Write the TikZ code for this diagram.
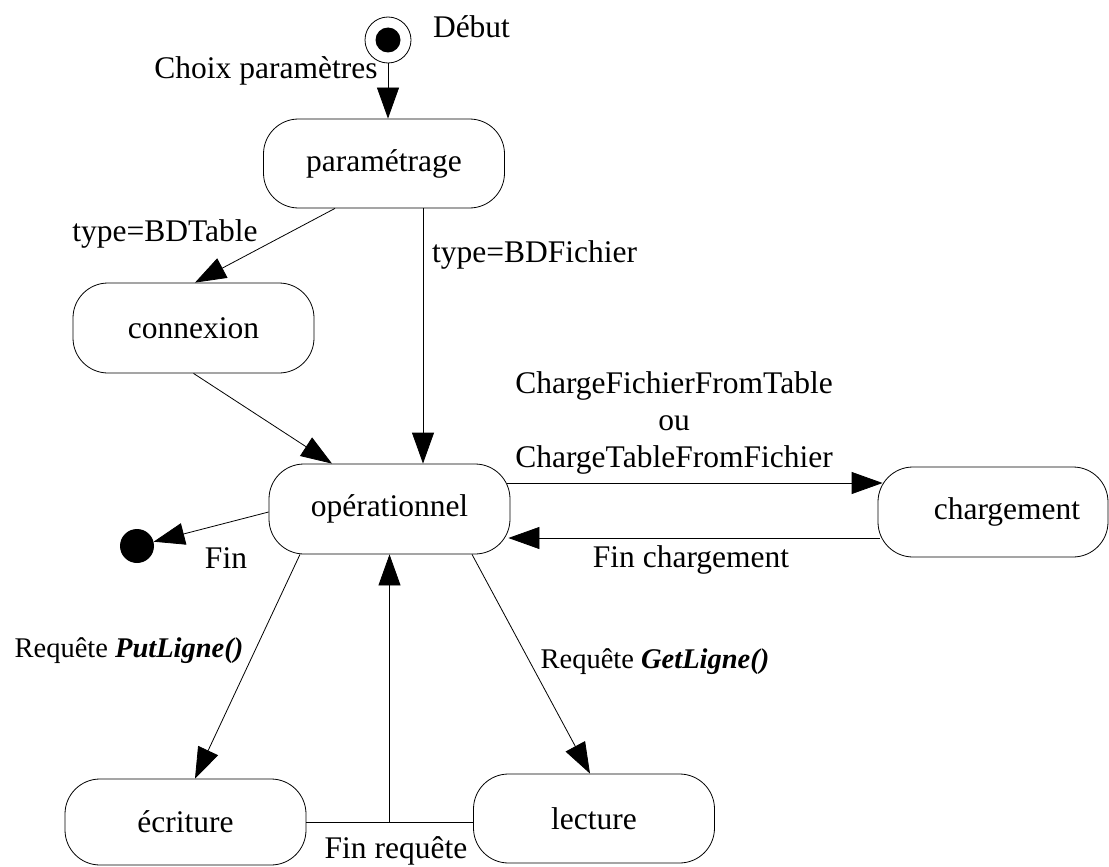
\documentclass[tikz,border=0pt]{standalone}
\usepackage{fontspec}
\setmainfont{Liberation Serif}
\usetikzlibrary{arrows.meta,calc}
\newcommand\myfs{\fontsize{31.5}{37}\selectfont}
\newcommand\myfss{\fontsize{28.5}{34}\selectfont}
\begin{document}
\begin{tikzpicture}[x=1pt,y=-1pt,
  state/.style={draw, line width=0.8pt, rounded corners=35pt, minimum width=241pt,
    minimum height=89pt, inner sep=0pt, font=\myfs},
  lbl/.style={inner sep=0pt, font=\myfs, anchor=base},
  arr/.style={-{Triangle[length=31pt,width=22pt]}, line width=0.8pt},
  ln/.style={line width=0.8pt}]
\useasboundingbox (0,0) rectangle (1109,867);
% states
\node[state] (param) at (384,163.5) {paramétrage};
\node[state, minimum height=90pt] (conn) at (193.5,328) {connexion};
\node[state, minimum height=90pt] (oper) at (389.5,509) {opérationnel};
\node[state, minimum width=230pt, minimum height=90pt] (charg) at (993,512) {\hspace*{28pt}chargement};
\node[state, minimum height=86pt] (ecr) at (185.5,822) {écriture};
\node[state] (lec) at (594,818.5) {lecture};
% start and end
\node[circle, draw, line width=0.8pt, minimum size=46pt, inner sep=0pt] (start) at (388,40) {};
\node[circle, fill, minimum size=25pt, inner sep=0pt] (startin) at (start.center) {};
\node[circle, fill, minimum size=34pt, inner sep=0pt] (endc) at (137,546) {};
% connectors
\draw[arr] (start.south) -- (start.south |- param.north);
\draw[arr] ($(param.south)+(-49,0)$) -- ($(conn.north)+(1.5,0)$);
\coordinate (pf) at ($(param.south)+(39,0)$);
\draw[arr] (pf) -- (pf |- oper.north);
\draw[arr] (conn.south) -- ($(oper.north)+(-57.5,0)$);
\draw[arr] ($(oper.east)+(-3,-26)$) -- ($(charg.west)+(5,-29)$);
\draw[arr] ($(charg.west)+(2,26)$) -- ($(oper.east)+(-2,29)$);
\draw[arr] ($(oper.west)+(0,3)$) -- (endc);
\draw[arr] ($(oper.south)+(-89.5,0)$) -- ($(ecr.north)+(9.5,0)$);
\draw[arr] ($(oper.south)+(82.5,0)$) -- ($(lec.north)+(-4,0)$);
\draw[ln] (ecr.east) -- (ecr.east -| lec.west);
\draw[arr] (oper.south |- ecr.east) -- (oper.south);
% labels
\node[lbl] (ldebut) at (471.5,38) {Début};
\node[lbl] (lchoix) at (266,78) {Choix paramètres};
\node[lbl] (ltable) at (165,241) {type=BDTable};
\node[lbl] (lfich) at (534.5,262) {type=BDFichier};
\node[inner sep=0pt, font=\myfs, align=center] (lcharge) at (674,422.6)
  {ChargeFichierFromTable\\ou\\ChargeTableFromFichier};
\node[lbl] (lfin) at (226,568) {Fin};
\node[lbl] (lfinch) at (691,567) {Fin chargement};
\node[lbl, font=\myfss] (lput) at (129,657) {Requête \textbf{\textit{PutLigne()}}};
\node[lbl, font=\myfss] (lget) at (655,668) {Requête \textbf{\textit{GetLigne()}}};
\node[lbl] (lfinreq) at (396,858.5) {Fin requête};
\end{tikzpicture}
\end{document}
